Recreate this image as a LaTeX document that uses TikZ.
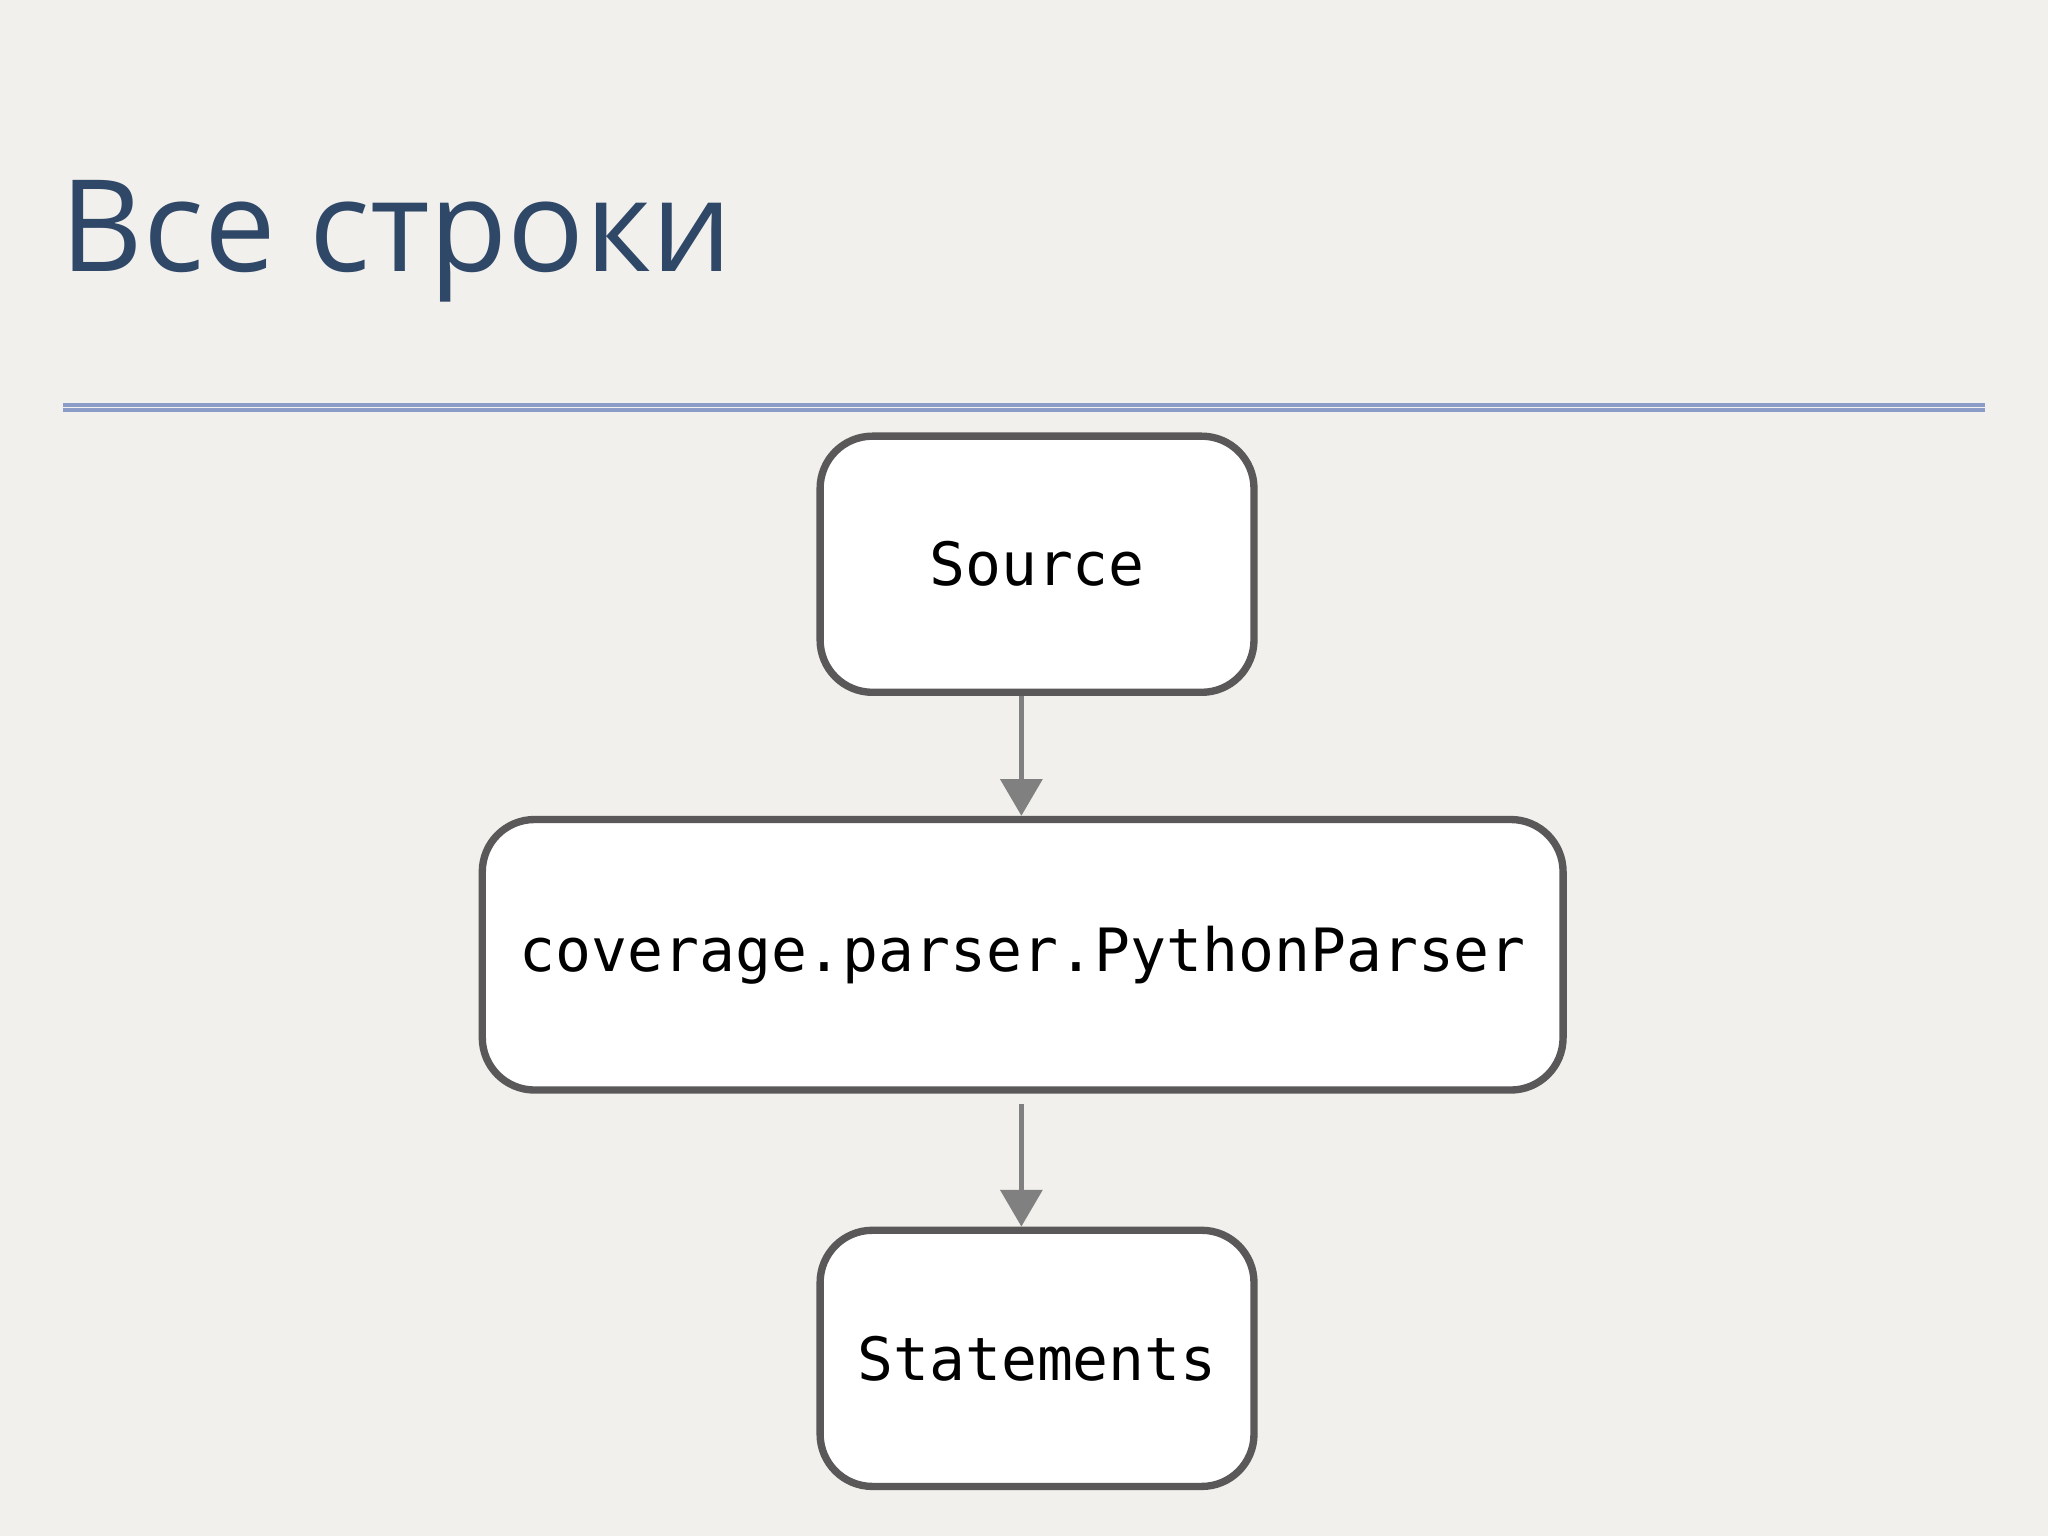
\documentclass[tikz,border=0pt]{standalone}
\usepackage{fontspec}
\setmainfont{Open Sans}
\setmonofont{DejaVu Sans Mono}
\usetikzlibrary{positioning,arrows.meta}
\definecolor{paper}{HTML}{F2F0EC}
\definecolor{titleblue}{HTML}{2F4868}
\definecolor{rule}{HTML}{8C9CC8}
\definecolor{edge}{HTML}{5A5858}
\tikzset{
  stage/.style = {draw = edge, line width = 1.6pt, fill = white, rounded corners = 0.4cm,
    font = \ttfamily\fontsize{13}{15}\selectfont, align = center},
  flow/.style = {draw = gray, line width = 1.2pt, -{Triangle[length = 8pt, width = 9pt]}}
}
\begin{document}
\begin{tikzpicture}[x = 0.01cm, y = -0.01cm]
	\fill[paper] (0,0) rectangle (1568,1176);
	\useasboundingbox (0,0) rectangle (1568,1176);
	\node[anchor = base west, text = titleblue, font = \fontsize{27.8}{33}\selectfont, inner sep = 0pt] (title) at (46,208) {Все строки};
	\draw[rule, line width = 0.8pt] (48,310) -- (1520,310)
		(48,314) -- (1520,314);
	\node[stage, minimum width = 3.32cm, minimum height = 1.96cm] (source) at (794,432) {Source};
	\node[stage, minimum width = 8.27cm, minimum height = 2.07cm] (parser) at (783,731) {coverage.parser.PythonParser};
	\node[stage, minimum width = 3.32cm, minimum height = 1.96cm] (stmts) at (794,1040) {Statements};
	\draw[flow] (source.south -| 782,0) -- (parser.north -| 782,0);
	\draw[flow] ([yshift = -0.08cm] parser.south -| 782,0) -- (stmts.north -| 782,0);
\end{tikzpicture}
\end{document}
